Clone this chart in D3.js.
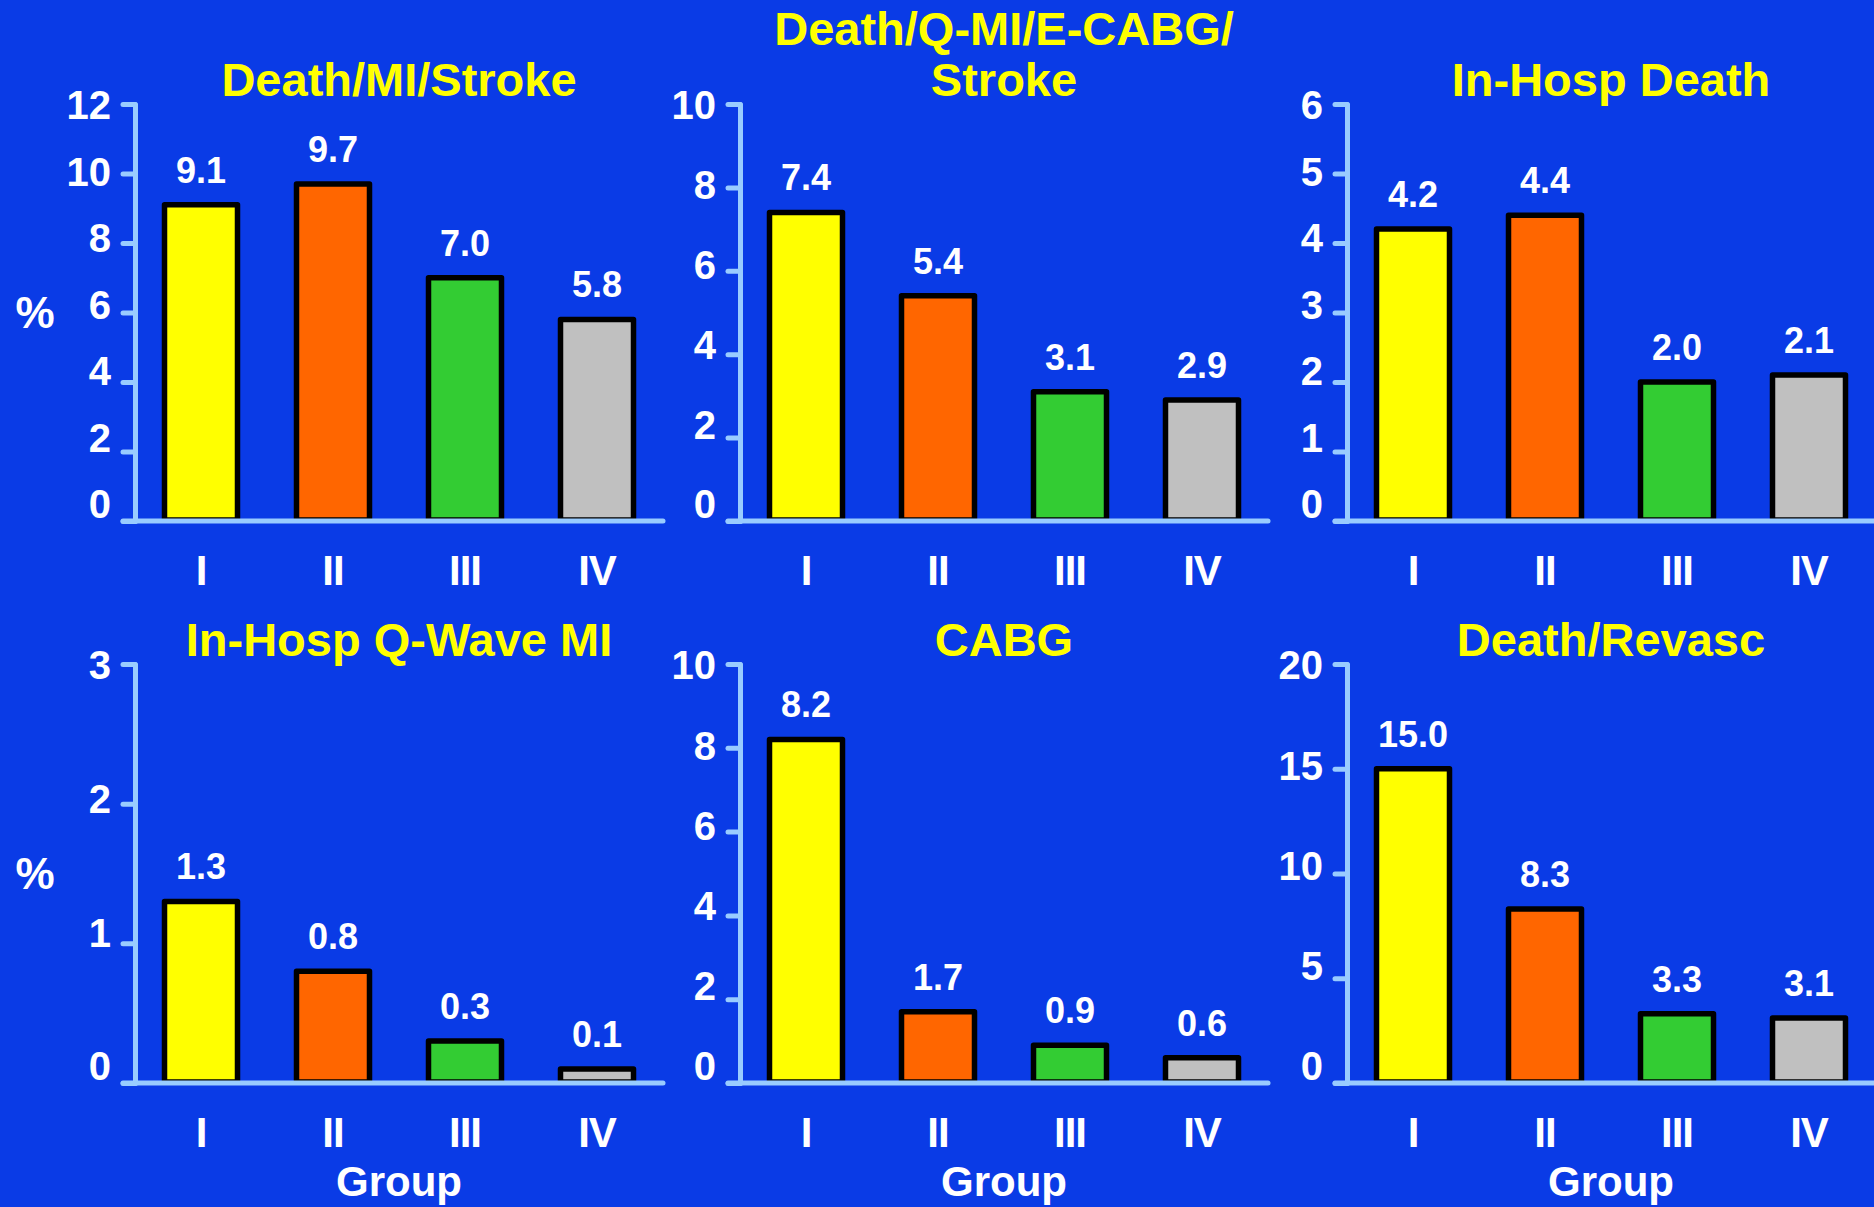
<!DOCTYPE html>
<html>
<head>
<meta charset="utf-8">
<script src="https://cdn.jsdelivr.net/npm/d3@7"></script>
<style>
  html, body { margin: 0; padding: 0; background: #0a3be6; }
  svg { display: block; }
  text { font-family: "Liberation Sans", Arial, Helvetica, sans-serif; font-weight: bold; }
</style>
</head>
<body>
<svg id="chart" width="1874" height="1207"></svg>
<script>
// Patient groups and their bar colours
const groups = ["I", "II", "III", "IV"];
const groupColors = ["#ffff00", "#ff6600", "#33cc33", "#c0c0c0"];

// Panel titles (one entry per line)
const panelTitles = [
  ["Death/MI/Stroke"],
  ["Death/Q-MI/E-CABG/", "Stroke"],
  ["In-Hosp Death"],
  ["In-Hosp Q-Wave MI"],
  ["CABG"],
  ["Death/Revasc"]
];

// Event rates (%) by group
const deathMiStroke   = [9.1, 9.7, 7.0, 5.8];
const deathQmiEcabg   = [7.4, 5.4, 3.1, 2.9];
const inHospDeath     = [4.2, 4.4, 2.0, 2.1];
const inHospQwaveMi   = [1.3, 0.8, 0.3, 0.1];
const cabg            = [8.2, 1.7, 0.9, 0.6];
const deathRevasc     = [15.0, 8.3, 3.3, 3.1];
const panelValues = [deathMiStroke, deathQmiEcabg, inHospDeath, inHospQwaveMi, cabg, deathRevasc];

// Y axis extent and tick spacing per panel
const yMax  = [12, 10, 6, 3, 10, 20];
const yStep = [2, 2, 1, 1, 2, 5];

const yLabel = "%";
const xLabel = "Group";

// ---- layout ----
const W = 1874, H = 1207;
const colX = [135, 740, 1347];
const plotW = 528;
const rowY = [{ top: 104, base: 521 }, { top: 664, base: 1083 }];
const axisColor = "#99ccff";
const axisWidth = 5;

const svg = d3.select("#chart");
svg.append("rect").attr("width", W).attr("height", H).attr("fill", "#0a3be6");

panelValues.forEach((vals, i) => {
  const col = i % 3, row = Math.floor(i / 3);
  const x0 = colX[col];
  const { top, base } = rowY[row];
  const max = yMax[i];

  const x = d3.scaleBand().domain(groups)
    .range([x0, x0 + plotW])
    .paddingInner(0.447).paddingOuter(0.2235);
  const y = d3.scaleLinear().domain([0, max]).range([base, top]);

  const g = svg.append("g");

  // bars (bottom edge tucked under the axis line)
  g.selectAll("rect.bar").data(vals).join("rect")
    .attr("class", "bar")
    .attr("x", (d, j) => x(groups[j]))
    .attr("y", d => y(d))
    .attr("width", x.bandwidth())
    .attr("height", d => Math.max(0, y(0) - y(d) - 1))
    .attr("fill", (d, j) => groupColors[j])
    .attr("stroke", "#000")
    .attr("stroke-width", 5.5)
    .attr("stroke-linejoin", "round");

  // value labels
  g.selectAll("text.val").data(vals).join("text")
    .attr("class", "val")
    .attr("x", (d, j) => x(groups[j]) + x.bandwidth() / 2)
    .attr("y", d => y(d) - 22)
    .attr("text-anchor", "middle")
    .attr("fill", "#fff")
    .attr("font-size", 36)
    .text(d => d.toFixed(1));

  // y axis
  const ticks = d3.range(0, max + yStep[i] / 2, yStep[i]);
  const yAxis = g.append("g")
    .attr("transform", `translate(${x0},0)`)
    .call(d3.axisLeft(y).tickValues(ticks).tickSize(12).tickSizeOuter(0)
      .tickPadding(12).tickFormat(d3.format("d")));
  yAxis.select(".domain")
    .attr("stroke", axisColor).attr("stroke-width", axisWidth).attr("stroke-linecap", "round");
  yAxis.selectAll(".tick line")
    .attr("stroke", axisColor).attr("stroke-width", axisWidth).attr("stroke-linecap", "round");
  yAxis.selectAll(".tick text")
    .attr("fill", "#fff")
    .attr("font-size", 40)
    .attr("font-family", null)
    .attr("y", d => 2 - 18 * (1 - d / max));

  // x axis: baseline and group labels
  g.append("line")
    .attr("x1", x0 - 12).attr("x2", x0 + plotW)
    .attr("y1", y(0)).attr("y2", y(0))
    .attr("stroke", axisColor).attr("stroke-width", axisWidth).attr("stroke-linecap", "round");
  const xAxis = g.append("g")
    .attr("transform", `translate(0,${base})`)
    .call(d3.axisBottom(x).tickSize(0).tickPadding(34));
  xAxis.select(".domain").remove();
  xAxis.selectAll(".tick text")
    .attr("fill", "#fff")
    .attr("font-size", 42)
    .attr("letter-spacing", -1)
    .attr("font-family", null);

  // title
  const lines = panelTitles[i];
  lines.forEach((t, k) => {
    g.append("text")
      .attr("x", x0 + plotW / 2)
      .attr("y", top - 8 - (lines.length - 1 - k) * 51)
      .attr("text-anchor", "middle")
      .attr("fill", "#ffff00")
      .attr("font-size", 47)
      .text(t);
  });

  // axis titles
  if (col === 0) {
    g.append("text")
      .attr("x", 35).attr("y", (top + base) / 2)
      .attr("dy", "0.35em")
      .attr("text-anchor", "middle")
      .attr("fill", "#fff")
      .attr("font-size", 44)
      .text(yLabel);
  }
  if (row === 1) {
    g.append("text")
      .attr("x", x0 + plotW / 2).attr("y", base + 113)
      .attr("text-anchor", "middle")
      .attr("fill", "#fff")
      .attr("font-size", 42)
      .text(xLabel);
  }
});
</script>
</body>
</html>
